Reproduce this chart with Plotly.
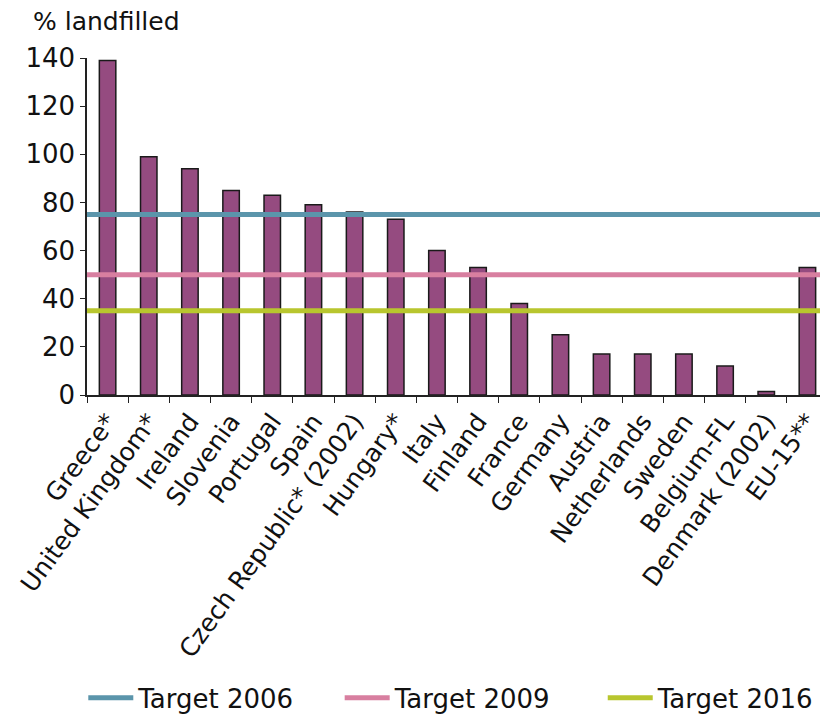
import plotly.graph_objects as go

countries = ["Greece*", "United Kingdom*", "Ireland", "Slovenia", "Portugal", "Spain",
             "Czech Republic* (2002)", "Hungary*", "Italy", "Finland", "France", "Germany",
             "Austria", "Netherlands", "Sweden", "Belgium-FL", "Denmark (2002)", "EU-15**"]
landfilled = [139, 99, 94, 85, 83, 79, 76, 73, 60, 53, 38, 25, 17, 17, 17, 12, 1.5, 53]

target_names = ["Target 2006", "Target 2009", "Target 2016"]
target_values = [75, 50, 35]
target_colors = ["#5b95ab", "#d87fa0", "#b8c62e"]
legend_ids = ["legend", "legend2", "legend3"]
legend_x = [-0.005, 0.341, 0.696]

FONT = "DejaVu Sans"

fig = go.Figure()
fig.add_trace(go.Bar(
    x=countries, y=landfilled, width=0.4,
    marker=dict(color="#954b80", line=dict(color="#1a1a1a", width=1.5)),
    showlegend=False, hoverinfo="x+y",
))
for name, val, col, lid in zip(target_names, target_values, target_colors, legend_ids):
    fig.add_trace(go.Scatter(
        x=[0, 1], y=[val, val], xaxis="x2", mode="lines", name=name,
        line=dict(color=col, width=5), legend=lid,
    ))

legend_common = dict(
    orientation="h", xanchor="left", y=-0.899, yanchor="middle",
    font=dict(size=26, family=FONT), itemwidth=45,
)

fig.update_layout(
    width=820, height=709,
    margin=dict(l=79, r=0, t=50, b=322, autoexpand=False),
    plot_bgcolor="white", paper_bgcolor="white",
    font=dict(family=FONT, color="#111111", size=22),
    xaxis=dict(
        type="category", tickson="boundaries", ticks="outside", ticklen=6,
        tickcolor="#222", showline=True, linecolor="#222", linewidth=1.5,
        tickangle=-54, tickfont=dict(size=25, family=FONT), showgrid=False,
        range=[-0.5, 17.5], automargin=False,
    ),
    xaxis2=dict(overlaying="x", range=[0, 1], visible=False, fixedrange=True),
    yaxis=dict(
        range=[0, 140], dtick=20, ticks="outside", ticklen=5, tickcolor="#222",
        showline=True, linecolor="#222", linewidth=1.5, showgrid=False,
        zeroline=False, tickfont=dict(size=26, family=FONT), automargin=False,
    ),
    legend=dict(x=legend_x[0], **legend_common),
    legend2=dict(x=legend_x[1], **legend_common),
    legend3=dict(x=legend_x[2], **legend_common),
    annotations=[dict(
        text="% landfilled", xref="paper", yref="paper", x=-0.075, y=1.058,
        xanchor="left", yanchor="bottom", showarrow=False,
        font=dict(size=25, family=FONT),
    )],
)

fig.write_html("out.html")
